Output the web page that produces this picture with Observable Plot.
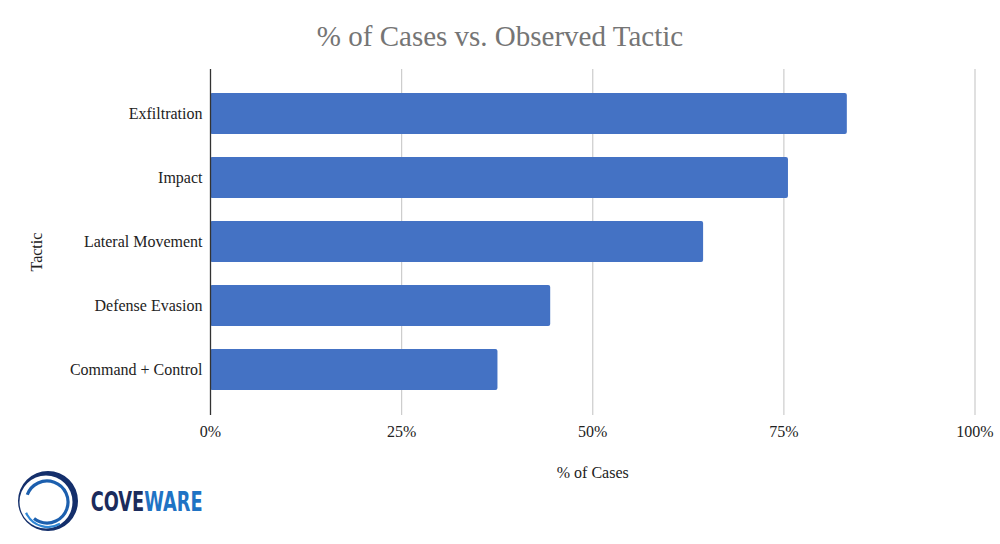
<!DOCTYPE html>
<html>
<head>
<meta charset="utf-8">
<script src="https://cdn.jsdelivr.net/npm/d3@7"></script>
<script src="https://cdn.jsdelivr.net/npm/@observablehq/plot@0.6"></script>
<style>
  html, body { margin: 0; padding: 0; background: #fff; }
  #wrap { position: relative; width: 1000px; height: 544px; overflow: hidden; }
  #title { position: absolute; left: 0; top: 20px; width: 1000px; text-align: center;
           font-family: "Liberation Serif", "DejaVu Serif", serif; font-size: 29px; color: #757575; }
  #chart { position: absolute; left: 0; top: 0; }
  #logo { position: absolute; left: 0; top: 466px; }
</style>
</head>
<body>
<div id="wrap">
  <div id="chart"></div>
  <div id="title">% of Cases vs. Observed Tactic</div>
  <svg id="logo" width="240" height="78" viewBox="0 0 240 78">
    <path fill="#142f6b" fill-rule="evenodd"
      d="M18,35 a30,30 0 1,0 60,0 a30,30 0 1,0 -60,0 Z M19.5,36 a26.5,26.5 0 1,0 53,0 a26.5,26.5 0 1,0 -53,0 Z"/>
    <circle cx="47" cy="36" r="21" fill="none" stroke="#1c5fae" stroke-width="3.2"
      stroke-dasharray="105 27" transform="rotate(200 47 36)"/>
    <circle cx="48" cy="37" r="24" fill="none" stroke="#2f86d4" stroke-width="2.2"
      stroke-dasharray="40 111" transform="rotate(60 48 37)"/>
    <g id="brand" transform="translate(90.7,45)">
      <text id="brandText" x="0" y="0" font-family="DejaVu Sans Condensed, DejaVu Sans, sans-serif" font-weight="bold"
        font-size="27"><tspan fill="#1b2b5c">COVE</tspan><tspan fill="#1f73c4">WARE</tspan></text>
    </g>
  </svg>
</div>
<script>
const tactics = ["Exfiltration", "Impact", "Lateral Movement", "Defense Evasion", "Command + Control"];
const percents = [83.3, 75.6, 64.5, 44.5, 37.6];
const xTicks = [0, 25, 50, 75, 100];

const data = tactics.map((t, i) => ({tactic: t, value: percents[i]}));

const chart = Plot.plot({
  width: 1000,
  height: 544,
  marginLeft: 210,
  marginRight: 25.5,
  marginTop: 69,
  marginBottom: 129,
  style: {fontFamily: "Liberation Serif, DejaVu Serif, serif", fontSize: "16px", color: "#222", background: "transparent"},
  x: {domain: [0, 100], label: null},
  y: {domain: tactics, padding: 0.355, label: null},
  marks: [
    Plot.ruleX(xTicks.slice(1), {stroke: "#cccccc", strokeWidth: 1.2}),
    Plot.barX(data, {x: "value", y: "tactic", fill: "#4472c4", rx: 2}),
    Plot.ruleX([0], {stroke: "#333333", strokeWidth: 1.3}),
    Plot.axisX({ticks: xTicks, tickSize: 0, tickPadding: 10, tickFormat: d => d + "%", label: null, fontSize: 16}),
    Plot.axisY({tickSize: 0, tickPadding: 8, label: null, fontSize: 16}),
    Plot.text(["Tactic"], {text: d => d, frameAnchor: "left", dx: -174, dy: 29, rotate: -90, fontSize: 16, fill: "#222"}),
    Plot.text(["% of Cases"], {text: d => d, frameAnchor: "bottom", dy: 62, fontSize: 16, fill: "#222"})
  ]
});
document.getElementById("chart").appendChild(chart);

// fit brand word to ~112px wide via uniform horizontal scale
const bt = document.getElementById("brandText");
const w = bt.getComputedTextLength();
if (w > 0) {
  document.getElementById("brand").setAttribute("transform", `translate(90.7,45) scale(${112 / w},1)`);
}
</script>
</body>
</html>
